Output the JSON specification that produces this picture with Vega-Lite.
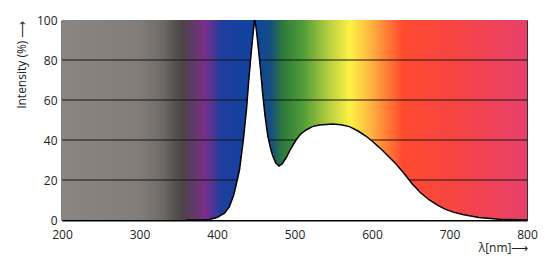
{
  "$schema": "https://vega.github.io/schema/vega-lite/v6.json",
  "width": 465,
  "height": 200,
  "autosize": "none",
  "padding": {"left": 62, "top": 20, "right": 22, "bottom": 45},
  "background": "white",
  "config": {
    "view": {"stroke": "#333333", "strokeWidth": 1},
    "font": "Open Sans",
    "axis": {"labelFont": "Open Sans", "titleFont": "Open Sans", "labelColor": "#222222", "titleColor": "#222222", "labelFontSize": 12, "titleFontSize": 12, "titleFontWeight": "normal", "zindex": 1, "labelFlush": false, "labelOverlap": false, "grid": false, "ticks": false, "domainColor": "black", "domainWidth": 2},
    "axisY": {"labelOverlap": false},
    "axisQuantitative": {"labelOverlap": false}
  },
  "datasets": {
    "curve": [
      {"nm": 360, "pct": 0}, {"nm": 380, "pct": 0}, {"nm": 390, "pct": 0.3}, {"nm": 400, "pct": 1.2},
      {"nm": 410, "pct": 3.5}, {"nm": 416, "pct": 6.7}, {"nm": 422, "pct": 13}, {"nm": 429, "pct": 25},
      {"nm": 434, "pct": 40}, {"nm": 438, "pct": 55}, {"nm": 441, "pct": 70}, {"nm": 444, "pct": 83},
      {"nm": 446.5, "pct": 93}, {"nm": 448.5, "pct": 100}, {"nm": 450.5, "pct": 96}, {"nm": 452.8, "pct": 88},
      {"nm": 456, "pct": 76}, {"nm": 459, "pct": 63}, {"nm": 462, "pct": 52}, {"nm": 465.6, "pct": 42},
      {"nm": 469, "pct": 36}, {"nm": 472, "pct": 32}, {"nm": 476, "pct": 28.5}, {"nm": 480, "pct": 27},
      {"nm": 484, "pct": 28}, {"nm": 489, "pct": 31}, {"nm": 495, "pct": 35.5}, {"nm": 502, "pct": 40},
      {"nm": 508, "pct": 43}, {"nm": 515, "pct": 45}, {"nm": 523, "pct": 46.7}, {"nm": 532, "pct": 47.5},
      {"nm": 549, "pct": 48}, {"nm": 560, "pct": 47.6}, {"nm": 571, "pct": 46.7}, {"nm": 582, "pct": 44.5},
      {"nm": 592, "pct": 42}, {"nm": 600, "pct": 39.5}, {"nm": 613, "pct": 35}, {"nm": 622, "pct": 31.5},
      {"nm": 631, "pct": 28}, {"nm": 642, "pct": 23}, {"nm": 652, "pct": 18}, {"nm": 663, "pct": 13.5},
      {"nm": 674, "pct": 10}, {"nm": 685, "pct": 7.3}, {"nm": 695, "pct": 5.3}, {"nm": 706, "pct": 3.8},
      {"nm": 717, "pct": 2.7}, {"nm": 738, "pct": 1.3}, {"nm": 764, "pct": 0.4}, {"nm": 800, "pct": 0}
    ],
    "grid": [{"v": 20}, {"v": 40}, {"v": 60}, {"v": 80}]
  },
  "layer": [
    {
      "data": {"values": [{"band": "spectrum"}]},
      "mark": {
        "type": "rect",
        "color": {
          "gradient": "linear", "x1": 0, "x2": 1, "y1": 0, "y2": 0,
          "stops": [
            {"offset": 0, "color": "#8a8581"},
            {"offset": 0.1667, "color": "#827d79"},
            {"offset": 0.2167, "color": "#6e6a67"},
            {"offset": 0.2583, "color": "#4a4546"},
            {"offset": 0.3083, "color": "#7a2e8c"},
            {"offset": 0.342, "color": "#1f3d9c"},
            {"offset": 0.4167, "color": "#0e44a0"},
            {"offset": 0.45, "color": "#17507e"},
            {"offset": 0.475, "color": "#2e7a3a"},
            {"offset": 0.5167, "color": "#4e9a38"},
            {"offset": 0.575, "color": "#b8d040"},
            {"offset": 0.62, "color": "#fff145"},
            {"offset": 0.6667, "color": "#ffb040"},
            {"offset": 0.70, "color": "#ff7a35"},
            {"offset": 0.7333, "color": "#ff4a30"},
            {"offset": 0.8333, "color": "#f84540"},
            {"offset": 1, "color": "#e8406c"}
          ]
        }
      },
      "encoding": {}
    },
    {
      "data": {"name": "grid"},
      "mark": {"type": "rule", "color": "#151515", "strokeWidth": 1},
      "encoding": {
        "y": {"field": "v", "type": "quantitative", "scale": {"domain": [0, 100], "nice": false},
              "axis": {"title": "Intensity (%) ⟶", "values": [0, 20, 40, 60, 80, 100], "labelOverlap": false, "labelPadding": 5, "titleAnchor": "end", "titlePadding": 8, "format": "d"}}
      }
    },
    {
      "data": {"name": "curve"},
      "mark": {"type": "area", "color": "white", "opacity": 1},
      "encoding": {
        "x": {"field": "nm", "type": "quantitative", "scale": {"domain": [200, 800], "nice": false},
              "axis": {"title": "λ[nm]⟶", "values": [200, 300, 400, 500, 600, 700, 800], "labelOverlap": false, "labelPadding": 9,
                       "titleAnchor": "end", "titleAlign": "right", "titlePadding": 2, "titleX": 466, "format": "d"}},
        "y": {"field": "pct", "type": "quantitative", "scale": {"domain": [0, 100], "nice": false},
              "axis": {"title": "Intensity (%) ⟶", "values": [0, 20, 40, 60, 80, 100], "labelOverlap": false, "labelPadding": 5, "titleAnchor": "end", "titlePadding": 8, "format": "d"}}
      }
    },
    {
      "data": {"name": "curve"},
      "mark": {"type": "line", "color": "black", "strokeWidth": 1.5},
      "encoding": {
        "x": {"field": "nm", "type": "quantitative",
              "axis": {"title": "λ[nm]⟶", "values": [200, 300, 400, 500, 600, 700, 800], "labelOverlap": false, "labelPadding": 9,
                       "titleAnchor": "end", "titleAlign": "right", "titlePadding": 2, "titleX": 466, "format": "d"}},
        "y": {"field": "pct", "type": "quantitative",
              "axis": {"title": "Intensity (%) ⟶", "values": [0, 20, 40, 60, 80, 100], "labelOverlap": false, "labelPadding": 5, "titleAnchor": "end", "titlePadding": 8, "format": "d"}}
      }
    }
  ]
}
